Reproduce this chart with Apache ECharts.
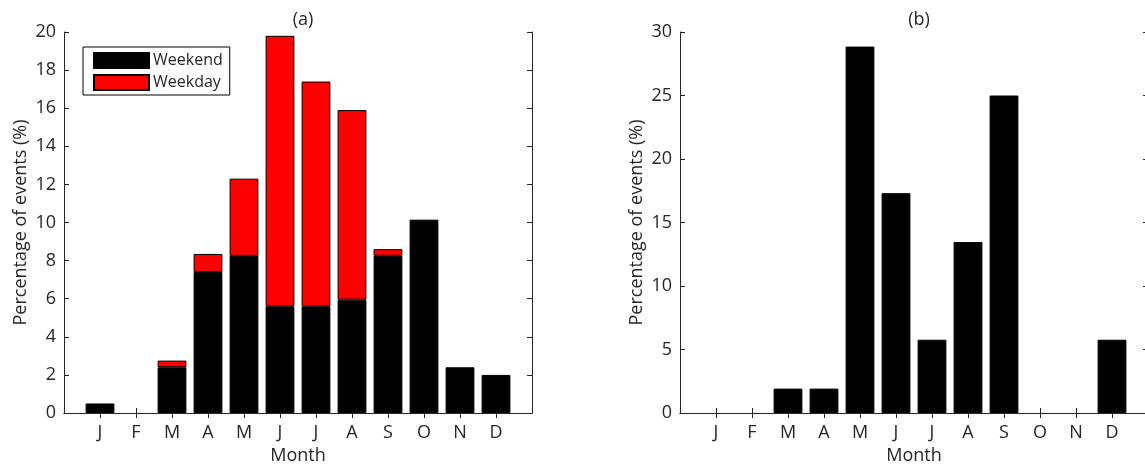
<!DOCTYPE html>
<html>
<head>
<meta charset="UTF-8">
<title></title>
<script src="https://cdn.jsdelivr.net/npm/echarts@6/dist/echarts.min.js"></script>
</head>
<body style="margin:0">
<div id="main" style="width:1145px;height:464px"></div>
<script type="text/javascript">
// month ticks, padded with empty slots so the axis runs 0..13 like the original
var months = ['J', 'F', 'M', 'A', 'M', 'J', 'J', 'A', 'S', 'O', 'N', 'D'];
// (a) stacked percentages
var weekend = [0.5, 0, 2.4, 7.4, 8.25, 5.6, 5.6, 5.95, 8.25, 10.15, 2.4, 2.0];
var weekday = [0, 0, 0.35, 0.95, 4.05, 14.2, 11.8, 9.95, 0.35, 0, 0, 0];
// (b) percentages
var panelB = [0, 0, 1.92, 1.92, 28.85, 17.31, 5.77, 13.46, 25.0, 0, 0, 5.77];

var cats = [''].concat(months, ['']);
// zero-height bars draw nothing in the original, so leave them out
function pad(arr) {
	return [null].concat(arr.map(function (v) { return v === 0 ? '-' : v; }), [null]);
}

var txt = '#262626';
var font = 'Open Sans';

function xAx(grid, top) {
	return {
		type: 'category', gridIndex: grid, data: cats, boundaryGap: false,
		position: top ? 'top' : 'bottom',
		name: top ? '' : 'Month', nameLocation: 'middle', nameGap: 31,
		nameTextStyle: { color: txt, fontSize: 18, fontFamily: font },
		axisLine: { lineStyle: { color: txt, width: 1 } },
		axisTick: { inside: true, length: 5, lineStyle: { color: txt },
			interval: function (i) { return i > 0 && i < 13; } },
		axisLabel: { show: !top, interval: 0, margin: 11, color: txt, fontSize: 18, fontFamily: font },
		splitLine: { show: false }
	};
}
function yAx(grid, max, step, right) {
	return {
		type: 'value', gridIndex: grid, min: 0, max: max, interval: step,
		position: right ? 'right' : 'left',
		name: right ? '' : 'Percentage of events (%)', nameLocation: 'middle', nameGap: 34,
		nameTextStyle: { color: txt, fontSize: 18, fontFamily: font },
		axisLine: { show: true, lineStyle: { color: txt, width: 1 } },
		axisTick: { show: true, inside: true, length: 5, lineStyle: { color: txt } },
		axisLabel: { show: !right, margin: 8, color: txt, fontSize: 18, fontFamily: font },
		splitLine: { show: false }
	};
}

var myCharts = echarts.init(document.querySelector('#main'));
var option = {
	animation: false,
	backgroundColor: '#fff',
	title: [
		{ text: '(a)', left: 298, top: 6, textAlign: 'center',
			textStyle: { color: txt, fontSize: 18, fontWeight: 'normal', fontFamily: font } },
		{ text: '(b)', left: 914, top: 6, textAlign: 'center',
			textStyle: { color: txt, fontSize: 18, fontWeight: 'normal', fontFamily: font } }
	],
	legend: {
		orient: 'vertical', left: 83, top: 47,
		padding: [5, 7, 4, 10], itemGap: 5, itemWidth: 55, itemHeight: 15,
		icon: 'rect',
		borderColor: '#000', borderWidth: 1, backgroundColor: '#fff',
		textStyle: { color: txt, fontSize: 16, fontFamily: font, padding: [0, 0, 0, -1] },
		data: ['Weekend', 'Weekday']
	},
	grid: [
		{ left: 64, top: 32, width: 468, height: 381, outerBoundsMode: 'none' },
		{ left: 680, top: 32, width: 468, height: 381, outerBoundsMode: 'none' }
	],
	xAxis: [xAx(0, false), xAx(0, true), xAx(1, false), xAx(1, true)],
	yAxis: [yAx(0, 20, 2, false), yAx(0, 20, 2, true), yAx(1, 30, 5, false), yAx(1, 30, 5, true)],
	series: [
		{ name: 'Weekend', type: 'bar', stack: 'a', xAxisIndex: 0, yAxisIndex: 0,
			barWidth: '80%', data: pad(weekend),
			itemStyle: { color: '#000', borderColor: '#000', borderWidth: 1 } },
		{ name: 'Weekday', type: 'bar', stack: 'a', xAxisIndex: 0, yAxisIndex: 0,
			barWidth: '80%', data: pad(weekday),
			itemStyle: { color: '#ff0000', borderColor: '#000', borderWidth: 1 } },
		{ name: 'b', type: 'bar', xAxisIndex: 2, yAxisIndex: 2,
			barWidth: '80%', data: pad(panelB),
			itemStyle: { color: '#000', borderColor: '#000', borderWidth: 1 } }
	]
};
myCharts.setOption(option);
</script>
</body>
</html>
